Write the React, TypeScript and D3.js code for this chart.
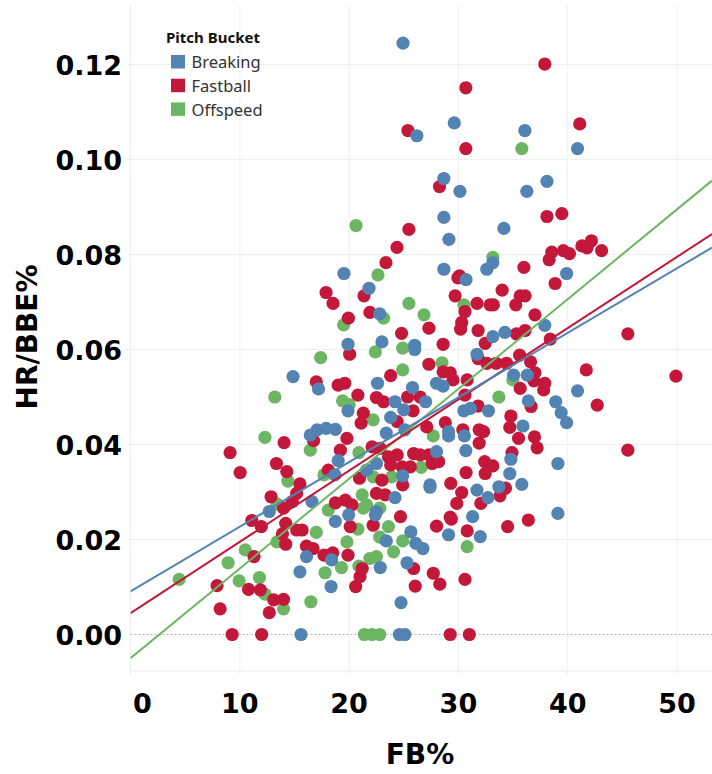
import React from 'react';
import * as d3 from 'd3';

// [FB%, HR/BBE%] per pitcher
const breaking: [number, number][] = [
  [19.53, 0.076], [21.82, 0.0729], [22.8, 0.0675], [24.93, 0.1245], [29.62, 0.1077],
  [26.2, 0.105], [36.08, 0.1061], [40.9, 0.1023], [28.67, 0.096], [30.14, 0.0933],
  [36.26, 0.0933], [38.1, 0.0954], [28.67, 0.0878], [29.13, 0.0832], [34.16, 0.0855],
  [28.67, 0.0769], [30.7, 0.0747], [33.15, 0.0783], [32.6, 0.0769], [39.9, 0.076],
  [37.9, 0.0651], [34.25, 0.0636], [33.15, 0.0627], [15.6, 0], [14.87, 0.0543],
  [19.9, 0.0611], [17.2, 0.0517], [19.9, 0.0471], [22.6, 0.0529], [16.45, 0.042],
  [17.07, 0.0431], [17.9, 0.0434], [18.75, 0.0432], [19.0, 0.0366], [18.7, 0.0336],
  [21.6, 0.0346], [16.6, 0.028], [19.96, 0.0252], [18.74, 0.0238], [22.5, 0.0259],
  [22.85, 0.0141], [22.5, 0.036], [12.7, 0.0259], [16.1, 0.0164], [15.5, 0.0132],
  [18.35, 0.0101], [18.4, 0.0157], [40.9, 0.0513], [38.9, 0.049], [39.4, 0.0467],
  [39.9, 0.0446], [39.1, 0.036], [39.1, 0.0255], [35.8, 0.0316], [34.7, 0.0339],
  [34.8, 0.0369], [33.7, 0.0311], [32.7, 0.0288], [31.7, 0.0304], [30.68, 0.0387],
  [30.55, 0.0418], [29.1, 0.0427], [29.1, 0.0418], [27.4, 0.0315], [27.4, 0.031],
  [31.3, 0.0248], [29.1, 0.021], [32.0, 0.0206], [25.65, 0.0216], [26.1, 0.0192],
  [26.75, 0.0181], [23.4, 0.0197], [25.3, 0.0151], [24.75, 0.0067], [24.6, 0],
  [25.1, 0], [23.0, 0.0616], [26.0, 0.0609], [26.0, 0.06], [28.0, 0.0529],
  [28.6, 0.0523], [25.8, 0.052], [27.0, 0.049], [24.2, 0.049], [25.0, 0.0473],
  [23.8, 0.0457], [23.4, 0.0424], [25.1, 0.0431], [30.5, 0.0471], [31.1, 0.0476],
  [32.75, 0.0471], [31.7, 0.059], [35.05, 0.0546], [36.3, 0.0546], [36.4, 0.0492],
  [35.9, 0.0439], [28.0, 0.0385], [24.9, 0.0334], [24.2, 0.0288], [22.4, 0.0252],
];

const fastball: [number, number][] = [
  [17.89, 0.072], [18.53, 0.0697], [21.36, 0.0713], [19.93, 0.0666], [21.9, 0.0678],
  [37.9, 0.1201], [30.68, 0.1151], [25.38, 0.1061], [41.1, 0.1075], [30.68, 0.1023],
  [28.27, 0.0943], [38.1, 0.088], [39.46, 0.0886], [25.47, 0.0853], [24.38, 0.0815],
  [23.37, 0.0783], [30.1, 0.0755], [29.95, 0.0751], [35.99, 0.0773], [38.3, 0.0789],
  [38.54, 0.0805], [39.6, 0.0808], [40.16, 0.0802], [38.85, 0.0739], [41.3, 0.0818],
  [42.17, 0.0829], [41.77, 0.0814], [29.7, 0.0713], [30.6, 0.068], [31.7, 0.0697],
  [32.9, 0.0694], [33.2, 0.0694], [34.0, 0.0725], [35.65, 0.0713], [36.1, 0.0713],
  [35.25, 0.0694], [37.0, 0.0673], [30.3, 0.0657], [30.2, 0.0643], [31.8, 0.064],
  [35.3, 0.0633], [36.1, 0.064], [38.4, 0.0622], [27.3, 0.0645], [24.8, 0.0634],
  [43.1, 0.0808], [45.5, 0.0633], [49.9, 0.0544], [45.5, 0.0388], [9.11, 0.0383],
  [10.03, 0.0341], [7.92, 0.0103], [8.2, 0.0054], [9.3, 0], [11.3, 0.0164],
  [10.8, 0.0095], [11.88, 0.0094], [13.1, 0.0073], [14.0, 0.0074], [12.7, 0.0046],
  [12.0, 0], [11.1, 0.024], [11.97, 0.0227], [12.86, 0.029], [14.2, 0.0234],
  [13.9, 0.0212], [14.2, 0.019], [15.2, 0.022], [15.7, 0.022], [16.1, 0.0186],
  [16.7, 0.0181], [17.7, 0.0167], [18.5, 0.0172], [19.9, 0.0167], [20.6, 0.0101],
  [21.0, 0.0122], [21.2, 0.0139], [13.35, 0.036], [14.05, 0.0404], [14.3, 0.0343],
  [15.5, 0.0317], [15.2, 0.0297], [14.8, 0.028], [14.0, 0.0266], [20.05, 0.059],
  [17.0, 0.0532], [19.0, 0.0525], [19.6, 0.0529], [20.8, 0.0504], [21.3, 0.0466],
  [21.1, 0.0445], [22.5, 0.0499], [16.75, 0.0408], [19.8, 0.0413], [19.2, 0.0388],
  [22.1, 0.0395], [18.1, 0.0346], [20.95, 0.0329], [18.74, 0.0277], [19.65, 0.0283],
  [20.26, 0.0273], [20.1, 0.0227], [22.2, 0.023], [22.5, 0.0297], [41.7, 0.0557],
  [42.7, 0.0483], [36.4, 0.0241], [34.5, 0.0227], [34.9, 0.0383], [33.8, 0.0292],
  [34.3, 0.0308], [32.4, 0.0364], [33.15, 0.0355], [32.45, 0.0339], [32.05, 0.0276],
  [30.7, 0.0341], [31.9, 0.0403], [31.9, 0.0431], [32.3, 0.0427], [30.4, 0.0431],
  [28.8, 0.0446], [29.3, 0.0318], [30.3, 0.0299], [29.85, 0.0276], [29.25, 0.0247],
  [29.35, 0.0243], [30.8, 0.0218], [28.0, 0.0228], [30.6, 0.0116], [27.7, 0.0129],
  [28.3, 0.0106], [24.7, 0.0248], [25.9, 0.0139], [26.05, 0.0102], [29.25, 0],
  [31.0, 0], [28.6, 0.0611], [23.8, 0.0545], [27.3, 0.0569], [28.6, 0.0553],
  [29.25, 0.0551], [29.5, 0.0536], [30.8, 0.0536], [30.6, 0.0504], [25.35, 0.05],
  [26.5, 0.05], [23.15, 0.049], [25.85, 0.0471], [24.4, 0.0448], [27.1, 0.0437],
  [31.8, 0.0481], [32.45, 0.0613], [31.8, 0.0581], [32.6, 0.0571], [33.45, 0.0571],
  [34.4, 0.0571], [35.6, 0.0588], [36.6, 0.0574], [37.0, 0.0551], [36.9, 0.0534],
  [35.65, 0.0518], [37.9, 0.0529], [37.8, 0.0515], [36.65, 0.048], [34.8, 0.046],
  [34.7, 0.0436], [35.5, 0.0413], [36.96, 0.0416], [37.2, 0.0393], [25.9, 0.0381],
  [26.5, 0.0378], [27.3, 0.0378], [28.2, 0.0364], [27.6, 0.036], [23.6, 0.0374],
  [24.4, 0.0378], [23.8, 0.0357], [24.85, 0.0353], [25.6, 0.0353], [23.0, 0.0325],
  [24.9, 0.0315], [23.3, 0.0294], [22.85, 0.0392],
];

const offspeed: [number, number][] = [
  [20.63, 0.0861], [22.64, 0.0757], [19.5, 0.0652], [35.8, 0.1023], [33.15, 0.0794],
  [30.5, 0.0694], [25.47, 0.0697], [26.85, 0.0673], [23.15, 0.0666], [4.45, 0.0116],
  [8.93, 0.0151], [9.94, 0.0113], [10.5, 0.0178], [11.8, 0.012], [12.3, 0.0085],
  [14.0, 0.0054], [16.5, 0.0069], [13.4, 0.0275], [13.4, 0.0195], [17.0, 0.0215],
  [17.8, 0.013], [19.3, 0.0141], [19.8, 0.0195], [20.9, 0.0144], [21.4, 0],
  [22.1, 0], [22.8, 0], [14.4, 0.0323], [12.3, 0.0415], [13.2, 0.05],
  [17.4, 0.0583], [22.4, 0.0595], [19.4, 0.0492], [22.2, 0.0452], [16.45, 0.0388],
  [20.9, 0.0383], [17.7, 0.0336], [22.2, 0.0332], [18.1, 0.0262], [20.8, 0.0222],
  [21.2, 0.0294], [21.6, 0.0273], [21.3, 0.0266], [22.8, 0.0205], [21.9, 0.016],
  [22.5, 0.0164], [30.8, 0.0185], [23.6, 0.0227], [24.9, 0.0197], [24.07, 0.0174],
  [24.9, 0.0603], [24.9, 0.0557], [28.5, 0.0572], [27.7, 0.0418], [34.98, 0.0536],
  [33.7, 0.05], [26.6, 0.0352], [23.9, 0.0332], [22.8, 0.0266], [20.0, 0.0484],
];

// trend lines as shown: [intercept, slope]
const trendBreaking: [number, number] = [0.0091, 0.00136];
const trendFastball: [number, number] = [0.0045, 0.0015];
const trendOffspeed: [number, number] = [-0.005, 0.00189];

const xTicks = [0, 10, 20, 30, 40, 50];
const yTicks = [0, 0.02, 0.04, 0.06, 0.08, 0.1, 0.12];

const series = [
  {name: 'Breaking', color: '#5383b3', points: breaking, trend: trendBreaking},
  {name: 'Fastball', color: '#c4183b', points: fastball, trend: trendFastball},
  {name: 'Offspeed', color: '#6cb663', points: offspeed, trend: trendOffspeed},
];

const W = 712;
const H = 774;
const left = 130.5;
const top = 5;
const bottom = 671;

export default function App() {
  const x = d3.scaleLinear().domain([0, 53.2]).range([left, W]);
  const y = d3.scaleLinear().domain([0, 0.12]).range([634.5, 64.5]);

  const line = d3.line<number>()
    .x(d => x(d[0]))
    .y(d => y(d[1]));

  const drawOrder = [series[2], series[1], series[0]];

  return (
    <svg width={W} height={H} style={{position: 'absolute', left: 0, top: 0}}>
      <defs>
        <clipPath id="plot">
          <rect x={left} y={top} width={W - left} height={bottom - top}/>
        </clipPath>
      </defs>

      {/* grid */}
      {xTicks.filter(t => t > 0).map(t => (
        <line key={'gx' + t} x1={x(t)} x2={x(t)} y1={top} y2={bottom + 4} stroke="#efefef" strokeWidth={1}/>
      ))}
      {yTicks.filter(t => t > 0).map(t => (
        <line key={'gy' + t} x1={left - 4} x2={W} y1={y(t)} y2={y(t)} stroke="#efefef" strokeWidth={1}/>
      ))}
      <line x1={left} x2={left} y1={top} y2={bottom + 4} stroke="#ececec"/>
      <line x1={left} x2={W} y1={bottom} y2={bottom} stroke="#ececec"/>
      <line x1={left} x2={W} y1={y(0)} y2={y(0)} stroke="#b8b8b8" strokeDasharray="2,2"/>

      {/* points */}
      <g clipPath="url(#plot)">
        {drawOrder.map(s => (
          <g key={s.name}>
            {s.points.map((p, i) => (
              <circle key={i} cx={x(p[0])} cy={y(p[1])} r={6.6} fill={s.color}/>
            ))}
          </g>
        ))}
        {drawOrder.map(s => {
          const [b, m] = s.trend;
          const pts = [0, 53.2].map(v => [v, b + m * v]) as any;
          return <path key={'t' + s.name} d={line(pts) || ''} stroke={s.color} strokeWidth={2} fill="none"/>;
        })}
      </g>

      {/* axes labels */}
      <g fontFamily="DejaVu Sans" fontWeight="bold" fontSize={27} fill="#000">
        {yTicks.map(t => (
          <text key={'yl' + t} x={122} y={y(t) + 10} textAnchor="end">{d3.format('.2f')(t)}</text>
        ))}
        {xTicks.map(t => (
          <text key={'xl' + t} x={t === 0 ? 133 : x(t)} y={712.5} textAnchor={t === 0 ? 'start' : 'middle'}>{t}</text>
        ))}
        <text x={420} y={764} textAnchor="middle" fontSize={28}>FB%</text>
        <text transform="translate(37,337) rotate(-90)" textAnchor="middle" fontSize={28}>HR/BBE%</text>
      </g>

      {/* legend */}
      <g fontFamily="Noto Sans">
        <text x={166} y={43} fontSize={15} fontWeight="bold" fill="#111">Pitch Bucket</text>
        {series.map((s, i) => (
          <g key={'lg' + s.name} transform={`translate(171,${55 + i * 23.7})`}>
            <rect width={14} height={13.5} fill={s.color}/>
            <text x={20.5} y={13.3} fontSize={16.5} fill="#333">{s.name}</text>
          </g>
        ))}
      </g>
    </svg>
  );
}
